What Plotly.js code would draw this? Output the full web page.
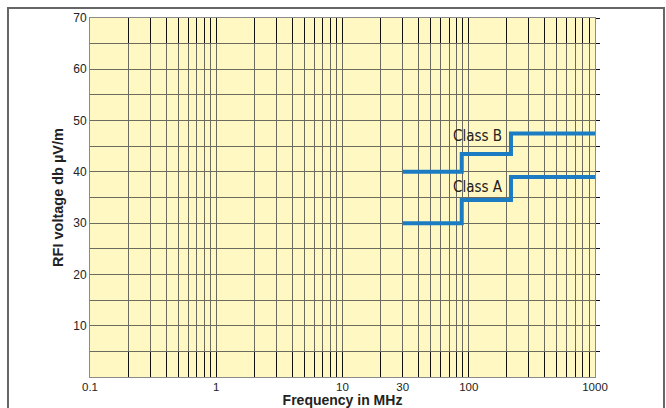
<!DOCTYPE html>
<html><head><meta charset="utf-8">
<script src="https://cdn.plot.ly/plotly-3.0.1.min.js"></script>
<style>html,body{margin:0;padding:0;background:#fff}#c{width:666px;height:408px}</style>
</head><body><div id="c"></div>
<script>
// Data
const classB_freq = [30, 88, 216, 1000];
const classB_level = [40, 43.5, 47.5, 47.5];
const classA_freq = [30, 88, 216, 1000];
const classA_level = [30, 34.5, 39, 39];
const xLabeled = {0.1:'0.1', 1:'1', 10:'10', 30:'30', 100:'100', 1000:'1000'};
const decades = [0.1, 1, 10, 100];
const yTickVals = [5,10,15,20,25,30,35,40,45,50,55,60,65,70];
const yTickLabels = ['','10','','20','','30','','40','','50','','60','','70'];

const xTickVals = [];
decades.forEach(d => { for (let m = 1; m <= 9; m++) xTickVals.push(+(d*m).toPrecision(3)); });
xTickVals.push(1000);
const xTickText = xTickVals.map(v => xLabeled[v] !== undefined ? xLabeled[v] : '');

const blue = '#1b7cc3';
const traces = [
  {x: classB_freq, y: classB_level, mode: 'lines', line: {shape: 'hv', color: blue, width: 4}, hoverinfo: 'skip'},
  {x: classA_freq, y: classA_level, mode: 'lines', line: {shape: 'hv', color: blue, width: 4}, hoverinfo: 'skip'},
  {x: [1], y: [0], xaxis: 'x2', yaxis: 'y2', mode: 'markers', marker: {opacity: 0}, hoverinfo: 'skip'}
];

const font = {family: 'Liberation Sans, Arial, sans-serif', size: 12, color: '#222'};
const xTickFont = {family: 'Liberation Sans, Arial, sans-serif', size: 11.5, color: '#222'};
const titleFont = {family: 'Liberation Sans, Arial, sans-serif', size: 14.5, color: '#222'};
const xTitleFont = {family: 'Liberation Sans, Arial, sans-serif', size: 14, color: '#222'};
const gridCol = '#6b6b60';
const labelFont = {family: 'DejaVu Sans Condensed, Liberation Sans Narrow, Arial Narrow, sans-serif', size: 15, color: '#222'};
const layout = {
  width: 666, height: 408,
  margin: {l: 90, r: 71, t: 18, b: 31},
  paper_bgcolor: '#ffffff', plot_bgcolor: '#fff8c2',
  showlegend: false, font: font,
  xaxis: {
    type: 'log', range: [-1, 3],
    tickmode: 'array', tickvals: xTickVals, ticktext: xTickText,
    showgrid: true, gridcolor: gridCol, gridwidth: 1,
    ticks: 'inside', ticklen: 25, tickcolor: '#111', tickwidth: 1,
    showline: true, linecolor: '#8a8a8a', linewidth: 1, mirror: true,
    zeroline: false, tickfont: xTickFont, ticklabelstandoff: -1,
    title: {text: '<b>Frequency in MHz</b>', standoff: 4, font: xTitleFont}
  },
  xaxis2: {
    type: 'log', range: [-1, 3], overlaying: 'x', side: 'top',
    tickmode: 'array', tickvals: xTickVals, showticklabels: false,
    showgrid: false, zeroline: false, showline: false,
    ticks: 'inside', ticklen: 25, tickcolor: '#111', tickwidth: 1
  },
  yaxis: {
    range: [0, 70], tickmode: 'array', tickvals: yTickVals, ticktext: yTickLabels,
    showgrid: true, gridcolor: gridCol, gridwidth: 1,
    ticks: '', showline: true, linecolor: '#8a8a8a', linewidth: 1, mirror: true,
    zeroline: false, tickfont: font,
    title: {text: '<b>RFI voltage db µV/m</b>', standoff: 6, font: titleFont}
  },
  yaxis2: {
    range: [0, 70], overlaying: 'y', side: 'right', tickmode: 'array', tickvals: yTickVals,
    showticklabels: false, showgrid: false, zeroline: false, showline: false,
    ticks: 'outside', ticklen: 4, tickcolor: '#111'
  },
  annotations: [
    {x: Math.log10(118), y: 47.0, xref: 'x', yref: 'y', text: 'Class B', showarrow: false, font: labelFont},
    {x: Math.log10(118), y: 37.1, xref: 'x', yref: 'y', text: 'Class A', showarrow: false, font: labelFont}
  ],
  shapes: [
    {type: 'rect', xref: 'paper', yref: 'paper', x0: -0.1624, x1: 1.1366, y0: -0.2, y1: 1.0279,
     line: {color: '#666', width: 2}, fillcolor: 'rgba(0,0,0,0)', layer: 'above'}
  ]
};
Plotly.newPlot('c', traces, layout, {staticPlot: true, displayModeBar: false});
</script>
</body></html>
